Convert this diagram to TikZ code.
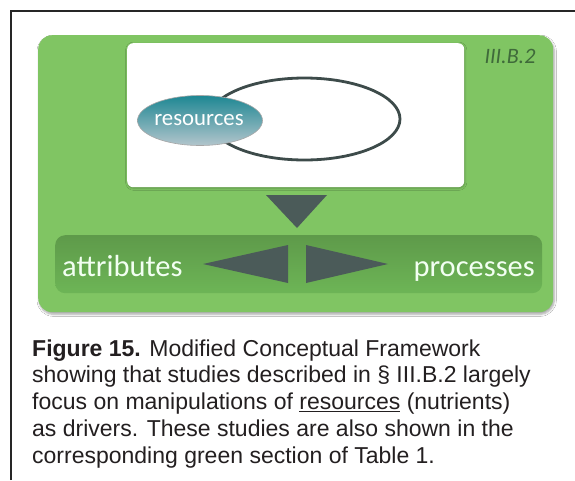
\documentclass[tikz,border=0pt]{standalone}
\usepackage{fontspec}
\setmainfont{Liberation Sans}
\newfontfamily\calib{Carlito}
\usetikzlibrary{shadows.blur}
\definecolor{grn}{HTML}{80C563}
\definecolor{bartop}{HTML}{5E9A4A}
\definecolor{barbot}{HTML}{6DB556}
\definecolor{slate}{HTML}{4B5B59}
\definecolor{ringc}{HTML}{3D4B4A}
\definecolor{tealtop}{HTML}{1E8793}
\definecolor{tealbot}{HTML}{B2C5CC}
\definecolor{labgrn}{HTML}{3F6A3A}
\definecolor{captxt}{HTML}{231F20}
\tikzset{
  panel/.style={rounded corners=14pt, fill=grn, inner sep=0pt, anchor=north west,
    blur shadow={shadow blur steps=6, shadow xshift=1pt, shadow yshift=-2pt, shadow opacity=35}},
  whitebox/.style={rounded corners=6pt, fill=white, inner sep=0pt, anchor=north west,
    blur shadow={shadow blur steps=4, shadow xshift=0.5pt, shadow yshift=-1pt, shadow opacity=25}},
  barbox/.style={rounded corners=10pt, top color=bartop, bottom color=barbot, inner sep=0pt, anchor=north west},
  tri/.style={fill=slate},
  barlabel/.style={font=\calib\fontsize{30.5}{32}\selectfont, text=white!95!green, inner sep=0pt},
  capline/.style={font=\fontsize{23}{26}\selectfont, text=captxt, inner sep=0pt, anchor=base west}
}
\begin{document}
\begin{tikzpicture}[x=1pt,y=-1pt]
\useasboundingbox (0,0) rectangle (575,480);
\fill[white] (0,0) rectangle (575,480);
% frame
\draw[line width=1.8pt, black!85] (11,480) -- (11,11) -- (575,11);
% green panel
\node[panel, minimum width=515pt, minimum height=277pt] (green) at (38,35) {};
\node[whitebox, minimum width=337pt, minimum height=144pt] (white) at (127,43) {};
\node[font=\calib\itshape\fontsize{22}{24}\selectfont, text=labgrn, inner sep=0pt] (sec) at (510,56) {III.B.2};
% ellipses
\draw[ringc, line width=2.8pt] (304.5,119) ellipse [x radius=95.5pt, y radius=41pt];
\shade[top color=tealtop, bottom color=tealbot, draw=gray!70, line width=0.6pt] (200,120.5) ellipse [x radius=62.5pt, y radius=25pt];
\node[font=\calib\fontsize{22.8}{24}\selectfont, text=white, inner sep=0pt, anchor=base] (res) at (199,125.5) {resources};
% down triangle
\fill[tri] (266,195) -- (327,195) -- (297,228) -- cycle;
% bar
\node[barbox, minimum width=487pt, minimum height=58pt] (bar) at (55,235) {};
\node[barlabel, anchor=base west] (attr) at (62,276) {attributes};
\node[barlabel, anchor=base east] (proc) at (535,276) {processes};
\fill[tri] (203,264) -- (288,245) -- (288,283) -- cycle;
\fill[tri] (306,245) -- (388,264) -- (306,283) -- cycle;
% caption
\node[capline] (c1) at (32,356) {\textbf{Figure 15.} Modified Conceptual Framework};
\node[capline] (c2) at (32,382.75) {showing that studies described in § III.B.2 largely};
\node[capline] (c3) at (32,409.5) {focus on manipulations of \underline{resources} (nutrients)};
\node[capline] (c4) at (32,436.25) {as drivers. These studies are also shown in the};
\node[capline] (c5) at (32,463) {corresponding green section of Table 1.};
\end{tikzpicture}
\end{document}
